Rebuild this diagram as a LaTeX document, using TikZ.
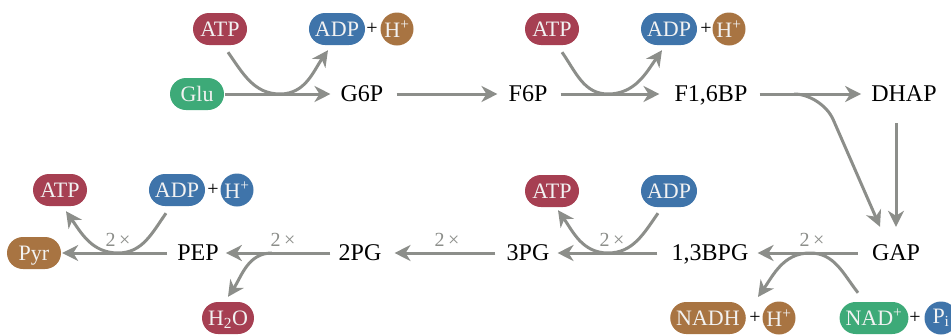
\documentclass[tikz,border=0pt]{standalone}
\usepackage{fontspec}
\setmainfont{Liberation Serif}
\usetikzlibrary{arrows.meta,calc}
\definecolor{cred}{HTML}{A63F52}
\definecolor{cblue}{HTML}{3F74AA}
\definecolor{cbrown}{HTML}{A87442}
\definecolor{cgreen}{HTML}{3DAA78}
\definecolor{cgray}{HTML}{8C8E8A}
\definecolor{ptext}{HTML}{F2F2F2}
\begin{document}
\begin{tikzpicture}[x=1pt,y=1pt,
  met/.style={inner xsep=0pt, inner ysep=0pt, text height=14pt, text depth=0pt, font=\fontsize{24}{28}\selectfont},
  pill/.style={fill=#1, rounded corners=16pt, minimum height=32pt, minimum width=54pt, inner xsep=6pt, inner ysep=0pt, text=ptext, text height=14pt, text depth=0pt, font=\fontsize{22}{26}\selectfont},
  ball/.style={fill=#1, circle, minimum size=33pt, inner sep=0pt, text=ptext, font=\fontsize{22}{26}\selectfont},
  plus/.style={font=\fontsize{20}{22}\selectfont, inner sep=0pt},
  times/.style={text=cgray, font=\fontsize{20}{22}\selectfont, inner sep=0pt},
  arr/.style={draw=cgray, line width=3pt, -{Stealth[length=16pt,width=16pt,inset=5pt]}},
  main/.style={arr, shorten <=13pt, shorten >=11pt}]
\useasboundingbox (0,0) rectangle (951,-335);
% row 1
\node[pill=cgreen] (glu) at (197,-94) {Glu};
\node[met] (g6p) at (362,-94) {G6P};
\node[met] (f6p) at (528,-94) {F6P};
\node[met] (f16bp) at (711,-94) {F1,6BP};
\node[met] (dhap) at (904,-94) {DHAP};
\node[pill=cred] (atp1) at (220,-29) {ATP};
\node[pill=cblue] (adp1) at (337,-29) {ADP};
\node[plus] (p1) at (372,-29) {+};
\node[ball=cbrown] (h1) at (397,-29) {H\textsuperscript{+}};
\node[pill=cred] (atp2) at (552,-29) {ATP};
\node[pill=cblue] (adp2) at (669,-29) {ADP};
\node[plus] (p2) at (706,-29) {+};
\node[ball=cbrown] (h2) at (729,-29) {H\textsuperscript{+}};
% row 2
\node[met] (gap) at (896,-253) {GAP};
\node[met] (bpg) at (710,-253) {1,3BPG};
\node[met] (pg3) at (528,-253) {3PG};
\node[met] (pg2) at (360,-253) {2PG};
\node[met] (pep) at (198,-253) {PEP};
\node[pill=cbrown] (pyr) at (34,-253) {Pyr};
\node[pill=cred] (atp3) at (552,-191) {ATP};
\node[pill=cblue] (adp3) at (669,-191) {ADP};
\node[pill=cred] (atp4) at (60,-190) {ATP};
\node[pill=cblue] (adp4) at (177,-190) {ADP};
\node[plus] (p4) at (213,-190) {+};
\node[ball=cblue] (h4) at (237,-190) {H\textsuperscript{+}};
\node[pill=cred, minimum width=50pt] (h2o) at (228,-318) {H\textsubscript{2}O};
\node[pill=cbrown] (nadh) at (708,-318) {NADH};
\node[plus] (p5) at (755,-318) {+};
\node[ball=cbrown] (h5) at (779,-318) {H\textsuperscript{+}};
\node[pill=cgreen] (nad) at (874,-318) {NAD\textsuperscript{+}};
\node[plus] (p6) at (915,-318) {+};
\node[ball=cblue] (phos) at (941,-318) {P\textsubscript{i}};
% labels
\node[times] (x1) at (812,-240) {2\,×};
\node[times] (x2) at (612,-240) {2\,×};
\node[times] (x3) at (447,-240) {2\,×};
\node[times] (x4) at (283,-240) {2\,×};
\node[times] (x5) at (118,-240) {2\,×};
% main arrows
\draw[arr, shorten <=1pt, shorten >=10pt] (glu) -- (g6p);
\draw[main] (g6p) -- (f6p);
\draw[main, shorten >=15pt] (f6p) -- (f16bp);
\draw[main, shorten <=12pt, shorten >=10pt] (f16bp) -- (dhap);
\draw[arr, shorten <=22pt, shorten >=19pt] (dhap.south -| gap) -- (gap.north);
\draw[main, shorten <=14pt, shorten >=9pt] (gap) -- (bpg);
\draw[main, shorten <=14pt, shorten >=8pt] (bpg) -- (pg3);
\draw[main, shorten <=11pt, shorten >=13pt] (pg3) -- (pg2);
\draw[main, shorten <=8pt, shorten >=7pt] (pg2) -- (pep);
\draw[arr, shorten <=10pt, shorten >=1pt] (pep) -- (pyr);
% side curves
\coordinate (t1) at (280,-94);
\draw[arr] ([shift={(8,-7)}]atp1.south) to[out=-55,in=180] (t1) to[out=0,in=-125] ([shift={(-9,-5)}]adp1.south);
\coordinate (t2) at (608,-94);
\draw[arr] ([shift={(10,-7)}]atp2.south) to[out=-55,in=180] (t2) to[out=0,in=-125] ([shift={(-7,-5)}]adp2.south);
\coordinate (t3) at (798,-94);
\coordinate (k3) at (822,-94);
\draw[arr, rounded corners=28pt] (t3) -- (k3) -- ([shift={(-16,19)}]gap.north);
\coordinate (t4) at (608,-253);
\draw[arr] ([shift={(-11,-6)}]adp3.south) to[out=-125,in=0] (t4) to[out=180,in=-55] ([shift={(6,-3)}]atp3.south);
\coordinate (t5) at (118,-253);
\draw[arr] ([shift={(-11,-7)}]adp4.south) to[out=-125,in=0] (t5) to[out=180,in=-55] ([shift={(6,-5)}]atp4.south);
\coordinate (t6) at (810,-253);
\draw[arr] ([shift={(-16,9)}]nad.north) to[out=128,in=0] (t6) to[out=180,in=55] ([shift={(3,21)}]p5.center);
\coordinate (t7) at (272,-253);
\draw[arr] (t7) to[out=180,in=56] ([yshift=5pt]h2o.north);
\end{tikzpicture}
\end{document}
